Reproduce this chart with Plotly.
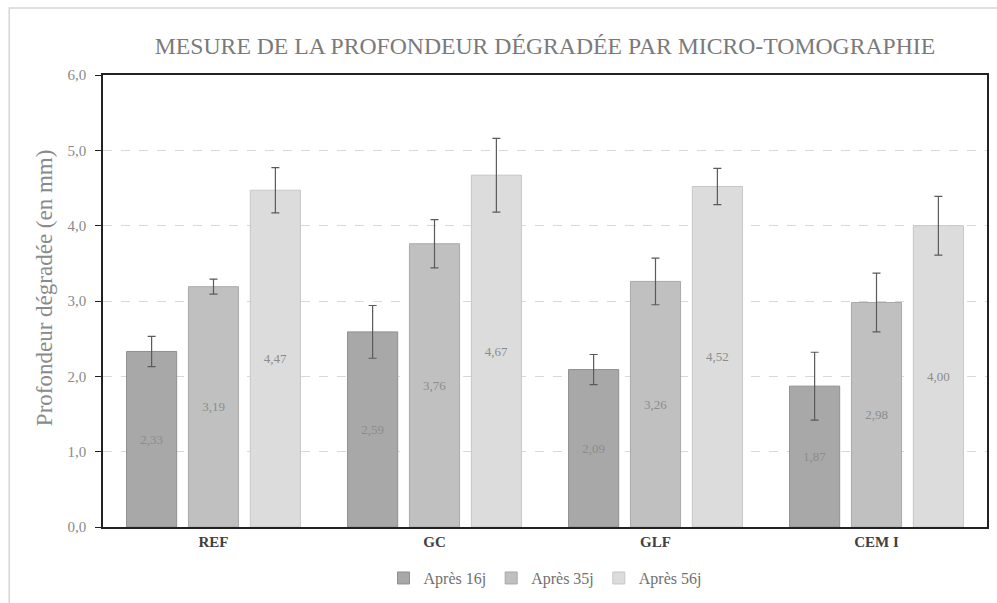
import plotly.graph_objects as go

# Data: degraded depth (mm) measured by micro-tomography
categories = ["REF", "GC", "GLF", "CEM I"]
series_names = ["Après 16j", "Après 35j", "Après 56j"]
depth_16j = [2.33, 2.59, 2.09, 1.87]
depth_35j = [3.19, 3.76, 3.26, 2.98]
depth_56j = [4.47, 4.67, 4.52, 4.00]
err_16j = [0.20, 0.35, 0.20, 0.45]
err_35j = [0.10, 0.32, 0.31, 0.39]
err_56j = [0.30, 0.49, 0.24, 0.39]
y_ticks = [0, 1, 2, 3, 4, 5, 6]

fills = ["#a8a8a8", "#c0c0c0", "#dcdcdc"]
edges = ["#8f8f8f", "#a9a9a9", "#c6c6c6"]
serif = "Liberation Serif, Times New Roman, serif"

fig = go.Figure()
for name, vals, errs, fc, ec in zip(series_names,
                                    [depth_16j, depth_35j, depth_56j],
                                    [err_16j, err_35j, err_56j],
                                    fills, edges):
    fig.add_trace(go.Bar(
        name=name,
        x=categories,
        y=vals,
        marker=dict(color=fc, line=dict(color=ec, width=1)),
        error_y=dict(type="data", array=errs, visible=True,
                     color="#5a5a5a", thickness=1.2, width=4),
        text=[f"{v:.2f}".replace(".", ",") for v in vals],
        textposition="inside",
        insidetextanchor="middle",
        textangle=0,
        constraintext="none",
        textfont=dict(family=serif, size=13, color="#8c8c8c"),
    ))

fig.update_layout(
    width=997, height=603,
    margin=dict(l=103, r=8, t=75, b=76),
    paper_bgcolor="white",
    plot_bgcolor="white",
    separators=",.",
    barmode="group",
    bargap=0.16,
    bargroupgap=0.19,
    font=dict(family=serif, color="#7f7f7f"),
    title=dict(text="MESURE DE LA PROFONDEUR DÉGRADÉE PAR MICRO-TOMOGRAPHIE",
               x=0.5, xref="paper", xanchor="center",
               y=0.925, yref="container", yanchor="middle",
               font=dict(family=serif, size=23.7, color="#7a7a7a")),
    legend=dict(orientation="h", x=0.5, xanchor="center",
                y=-0.113, yanchor="middle",
                font=dict(family=serif, size=16, color="#707070"),
                itemwidth=30, traceorder="normal"),
    showlegend=True,
)

fig.update_xaxes(
    showline=True, linecolor="#222222", linewidth=1.5, mirror=True,
    ticks="", showgrid=False,
    tickfont=dict(family=serif, size=15, color="#404040", weight="bold"),
    tickprefix="<b>", ticksuffix="</b>",
)
fig.update_yaxes(
    range=[0, 6],
    tickvals=y_ticks,
    tickformat=".1f",
    showline=True, linecolor="#222222", linewidth=1.5, mirror=True,
    ticks="outside", ticklen=6, tickcolor="#222222", tickwidth=1.2,
    ticklabelstandoff=6,
    showgrid=True, gridcolor="#d8d8d8", griddash="dash", gridwidth=1,
    zeroline=False,
    tickfont=dict(family=serif, size=15, color="#8a8a8a"),
)

# y-axis title, placed as a rotated annotation
fig.add_annotation(text="Profondeur dégradée (en mm)", textangle=-90,
                   xref="paper", yref="paper",
                   x=(44 - 103) / 886, y=(527 - 288) / 452,
                   xanchor="center", yanchor="middle", showarrow=False,
                   font=dict(family=serif, size=23, color="#8a8a8a"))

# light outer frame of the chart area
fig.add_shape(type="rect", xref="paper", yref="paper",
              x0=(9 - 103) / 886, x1=(1010 - 103) / 886,
              y0=(527 - 615) / 452, y1=(527 - 8) / 452,
              line=dict(color="#d6d6d6", width=1.5), layer="below")

fig.write_html("out.html")
